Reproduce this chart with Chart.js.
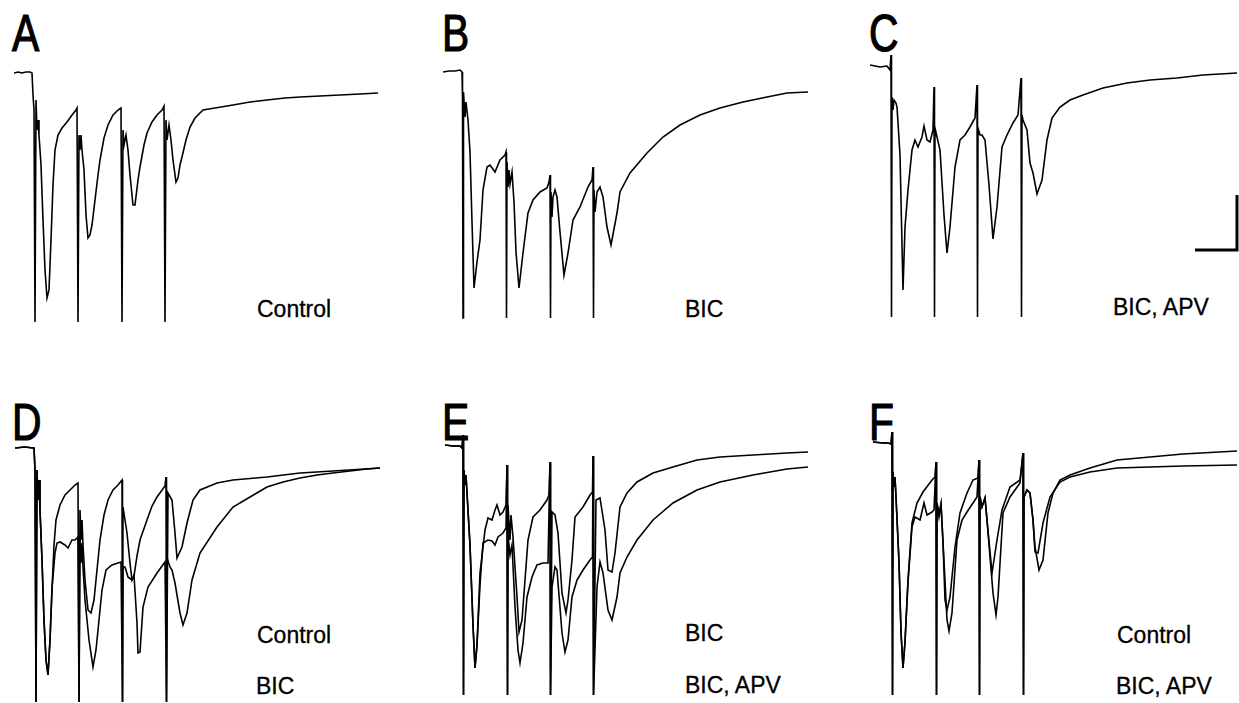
<!DOCTYPE html>
<html>
<head>
<meta charset="utf-8">
<script src="https://cdn.jsdelivr.net/npm/chart.js@4.4.0/dist/chart.umd.min.js"></script>
<style>
  html, body { margin: 0; padding: 0; background: #fff; }
  #fig { position: relative; width: 1239px; height: 703px; overflow: hidden; }
  #fig canvas { position: absolute; }
  .letter { position: absolute; font-family: "Liberation Sans", Arial, sans-serif; font-size: 51px; line-height: 50px; color: #000; transform: scaleX(0.8); transform-origin: 0 0; -webkit-text-stroke: 1.2px #000; }
  .cond { position: absolute; font-family: "Liberation Sans", Arial, sans-serif; font-size: 23px; line-height: 23px; color: #000; white-space: nowrap; -webkit-text-stroke: 0.3px #000; }
</style>
</head>
<body>
<div id="fig">
  <div class="letter" style="left:12px;top:9px">A</div>
  <div class="letter" style="left:442px;top:9px">B</div>
  <div class="letter" style="left:869px;top:9px">C</div>
  <div class="letter" style="left:12px;top:398px">D</div>
  <div class="letter" style="left:442px;top:398px">E</div>
  <div class="letter" style="left:869px;top:398px">F</div>

  <div class="cond" style="left:257px;top:298px">Control</div>
  <div class="cond" style="left:685px;top:298px">BIC</div>
  <div class="cond" style="left:1113px;top:296px">BIC, APV</div>

  <div class="cond" style="left:257px;top:624px">Control</div>
  <div class="cond" style="left:256px;top:675px">BIC</div>
  <div class="cond" style="left:685px;top:622px">BIC</div>
  <div class="cond" style="left:685px;top:674px">BIC, APV</div>
  <div class="cond" style="left:1117px;top:624px">Control</div>
  <div class="cond" style="left:1116px;top:675px">BIC, APV</div>
</div>

<script>
// each trace: [time (ms from sweep start), current (pA from baseline)]
// stimulus artifacts are part of the recorded sweep
const controlA = [[0,0],[4,1],[8,0],[12,1],[16,1],[18,0],[19,-22],[20,-37],[21,-249],[22,-27],[23,-57],[24,-47],[25,-62],[27,-92],[29,-147],[31,-197],[33,-225],[35,-217],[37,-167],[39,-112],[41,-77],[44,-62],[48,-55],[53,-49],[58,-42],[62,-37],[63,-35],[64,-249],[65,-62],[66,-77],[67,-62],[68,-77],[70,-97],[72,-142],[74,-165],[76,-162],[78,-152],[81,-127],[84,-102],[86,-87],[90,-65],[94,-52],[99,-42],[104,-37],[107,-35],[108,-249],[109,-57],[110,-72],[112,-62],[114,-77],[116,-102],[119,-132],[121,-132],[124,-107],[126,-94],[130,-72],[133,-60],[138,-49],[143,-42],[148,-37],[150,-33],[151,-249],[152,-47],[153,-67],[155,-52],[157,-67],[159,-87],[162,-109],[164,-105],[166,-92],[168,-84],[172,-67],[176,-54],[181,-45],[189,-37],[201,-35],[219,-32],[236,-29],[253,-27],[271,-25],[286,-24],[306,-23],[326,-22],[346,-21],[364,-20]];

const bicB = [[0,0],[6,1],[12,1],[17,2],[19,0],[19.5,-25],[20,-246],[20.5,-20],[22,-45],[23,-30],[25,-48],[27,-80],[29,-150],[31,-216],[34,-190],[37,-168],[40,-118],[44,-95],[47,-93],[52,-100],[57,-88],[62,-83],[63,-80],[63.5,-246],[64,-90],[65,-115],[66,-98],[67,-112],[69,-100],[71,-130],[73,-180],[76,-216],[80,-181],[85,-141],[90,-128],[97,-120],[104,-116],[106,-110],[107,-103],[107.5,-246],[108,-120],[109,-145],[110,-125],[112,-118],[114,-125],[117,-160],[121,-203],[125,-181],[130,-148],[137,-135],[145,-115],[149,-108],[150,-95],[150.5,-246],[151,-118],[152,-140],[154,-120],[157,-115],[160,-125],[164,-155],[168,-173],[174,-141],[177,-120],[187,-101],[204,-81],[220,-65],[237,-53],[257,-43],[277,-36],[300,-30],[324,-25],[344,-21],[365,-20]];

const bicApvC = [[0,0],[5,-1],[10,-2],[17,-1],[20,-5],[21,10],[21.5,-252],[22,-32],[23,-45],[24,-35],[26,-38],[27,-42],[30,-90],[33,-225],[35,-162],[38,-125],[42,-85],[45,-75],[48,-82],[52,-72],[54,-61],[57,-75],[60,-77],[63,-65],[64,-22],[64.5,-252],[65,-63],[67,-72],[70,-85],[74,-150],[77,-188],[80,-162],[85,-102],[90,-75],[95,-70],[100,-62],[105,-53],[107,-20],[107.5,-252],[108,-63],[110,-70],[112,-70],[115,-75],[119,-120],[123,-174],[127,-142],[132,-82],[137,-70],[143,-58],[148,-50],[151,-13],[151.5,-252],[152,-50],[153,-55],[157,-65],[160,-98],[163,-108],[167,-129],[172,-115],[177,-75],[182,-53],[190,-42],[200,-35],[213,-30],[233,-23],[257,-18],[280,-15],[307,-13],[333,-10],[367,-8]];

// scale bar drawn beside panel C
const scaleBar = [[325,-185],[367,-185],[367,-130]];

const controlD = [[0,0],[10,1],[18,0],[19,0],[20,-22],[21,-254],[22,-22],[23,-52],[24,-32],[25,-62],[27,-112],[29,-172],[31,-212],[33,-227],[35,-192],[37,-142],[39,-97],[41,-72],[45,-57],[50,-47],[55,-42],[60,-37],[63,-35],[64,-254],[65,-62],[66,-92],[67,-72],[68,-97],[70,-132],[73,-162],[76,-165],[79,-152],[82,-122],[85,-92],[89,-67],[93,-52],[98,-42],[103,-37],[107,-32],[107.5,-254],[108,-59],[110,-72],[112,-85],[115,-115],[117,-132],[119,-128],[122,-108],[125,-92],[132,-72],[137,-58],[142,-49],[150,-38],[151,-29],[151.5,-254],[153,-45],[157,-52],[160,-85],[162,-110],[167,-99],[172,-75],[178,-52],[185,-42],[202,-35],[218,-32],[252,-29],[285,-25],[318,-23],[365,-20]];

const bicD = [[0,0],[10,1],[18,0],[19,0],[20,-22],[21,-254],[22,-22],[23,-52],[24,-32],[25,-62],[27,-112],[29,-172],[31,-212],[33,-227],[35,-192],[37,-140],[40,-105],[42,-95],[45,-94],[50,-97],[53,-100],[57,-92],[60,-92],[63,-89],[64,-254],[65,-92],[66,-115],[67,-95],[68,-119],[70,-152],[74,-192],[78,-219],[81,-202],[84,-172],[87,-142],[91,-122],[97,-117],[103,-115],[106,-114],[107.5,-254],[108,-119],[110,-119],[113,-129],[117,-132],[119,-127],[122,-175],[123,-205],[125,-204],[128,-159],[133,-139],[142,-125],[150,-114],[151.5,-254],[152,-110],[155,-119],[157,-122],[160,-135],[165,-165],[168,-177],[172,-165],[177,-132],[185,-105],[202,-79],[218,-59],[235,-49],[252,-39],[268,-34],[285,-30],[302,-27],[318,-25],[335,-23],[352,-21],[365,-20]];

const bicApvE = [[0,0],[8,-1],[15,-1],[17,-3],[18,10],[18.5,-250],[19,-25],[20,-40],[21,-30],[22,-48],[25,-100],[28,-180],[30,-223],[32,-200],[35,-128],[40,-85],[43,-73],[47,-75],[50,-65],[52,-60],[55,-70],[58,-67],[61,-60],[62,-20],[62.5,-250],[63,-60],[65,-95],[66,-70],[68,-92],[72,-152],[74,-187],[77,-175],[80,-135],[83,-95],[88,-72],[95,-65],[102,-55],[104,-50],[105,-17],[105.5,-250],[107,-67],[110,-70],[113,-88],[117,-148],[121,-168],[123,-155],[127,-115],[130,-72],[138,-62],[145,-50],[147.5,-47],[148,-11],[148.5,-250],[151,-55],[155,-53],[160,-85],[163,-125],[167,-127],[170,-108],[175,-62],[182,-48],[192,-37],[208,-28],[228,-22],[252,-15],[275,-12],[308,-10],[342,-8],[363,-7]];

const bicE = [[0,0],[8,-1],[15,-1],[17,-3],[18,10],[18.5,-250],[19,-25],[20,-40],[21,-30],[22,-48],[25,-100],[28,-180],[30,-223],[32,-200],[35,-140],[38,-98],[43,-95],[47,-96],[50,-100],[53,-92],[58,-88],[61,-83],[62,-20],[62.5,-250],[63,-90],[65,-110],[67,-100],[70,-162],[73,-205],[75,-218],[78,-198],[82,-152],[87,-132],[92,-120],[98,-118],[103,-118],[105,-17],[105.5,-250],[107,-142],[110,-122],[112,-125],[117,-188],[120,-207],[123,-195],[127,-152],[132,-135],[138,-125],[145,-115],[147.5,-112],[148,-11],[148.5,-250],[152,-142],[155,-117],[158,-128],[163,-165],[167,-175],[172,-152],[175,-128],[182,-112],[192,-95],[208,-75],[228,-58],[252,-45],[275,-37],[308,-30],[342,-24],[363,-22]];

const controlF = [[0,0],[10,-1],[15,-1],[18,-2],[19,10],[19.5,-253],[20,-30],[21,-45],[22,-35],[23,-55],[26,-120],[28,-190],[30,-226],[32,-200],[35,-138],[39,-81],[44,-61],[50,-50],[59,-38],[62,-35],[63,-20],[63.5,-253],[64,-61],[66,-72],[68,-62],[70,-100],[72,-158],[74,-168],[77,-155],[82,-105],[87,-71],[94,-51],[100,-38],[105,-36],[106,-18],[106.5,-253],[107,-55],[109,-65],[112,-56],[114,-78],[119,-131],[124,-98],[129,-68],[137,-45],[147,-38],[150,-11],[150.5,-253],[151,-55],[154,-48],[157,-51],[160,-78],[162,-110],[165,-111],[170,-81],[177,-55],[187,-40],[197,-35],[217,-30],[244,-26],[277,-25],[310,-24],[364,-23]];

const bicApvF = [[0,0],[10,-1],[15,-1],[18,-2],[19,10],[19.5,-253],[20,-30],[21,-45],[22,-35],[23,-55],[26,-120],[28,-190],[30,-226],[32,-200],[35,-140],[39,-85],[42,-75],[47,-78],[51,-61],[54,-73],[59,-70],[61,-68],[63,-20],[63.5,-253],[64,-61],[66,-75],[68,-62],[70,-100],[74,-178],[76,-189],[79,-171],[84,-98],[89,-78],[94,-70],[100,-61],[104,-55],[106,-18],[106.5,-253],[107,-55],[109,-65],[112,-56],[114,-78],[120,-151],[123,-173],[125,-155],[130,-71],[137,-55],[147,-41],[150,-11],[150.5,-253],[151,-55],[154,-48],[157,-51],[160,-78],[162,-105],[166,-128],[170,-118],[175,-71],[180,-51],[187,-38],[197,-33],[217,-26],[244,-18],[277,-15],[310,-12],[364,-9]];

// panel placement: left edge of sweep and baseline row on the page
const panels = [
    { left: 14,  base: 73,  traces: [controlA] },
    { left: 443, base: 72,  traces: [bicB] },
    { left: 870, base: 65,  traces: [bicApvC], bar: scaleBar },
    { left: 15,  base: 448, traces: [controlD, bicD] },
    { left: 445, base: 445, traces: [bicApvE, bicE] },
    { left: 873, base: 442, traces: [controlF, bicApvF] }
];

const W = 369, H = 275, TOP = 20;

function toXY(trace) {
    return trace.map(([t, v]) => ({ x: t, y: v }));
}

function drawPanel(p) {
    const canvas = document.createElement('canvas');
    canvas.width = W;
    canvas.height = H;
    canvas.style.left = p.left + 'px';
    canvas.style.top = (p.base - TOP) + 'px';
    document.getElementById('fig').appendChild(canvas);

    const datasets = p.traces.map(tr => ({
        data: toXY(tr),
        borderColor: '#000',
        borderWidth: 1.6,
        pointRadius: 0,
        tension: 0,
        fill: false
    }));
    if (p.bar) {
        datasets.push({
            data: toXY(p.bar),
            borderColor: '#000',
            borderWidth: 3,
            pointRadius: 0,
            tension: 0,
            fill: false
        });
    }

    new Chart(canvas.getContext('2d'), {
        type: 'line',
        data: { datasets },
        options: {
            responsive: false,
            animation: false,
            events: [],
            layout: { padding: 0 },
            plugins: { legend: { display: false }, tooltip: { enabled: false } },
            scales: {
                x: { type: 'linear', display: false, min: 0, max: W },
                y: { type: 'linear', display: false, min: TOP - H, max: TOP }
            }
        }
    });
}

panels.forEach(drawPanel);
</script>
</body>
</html>
